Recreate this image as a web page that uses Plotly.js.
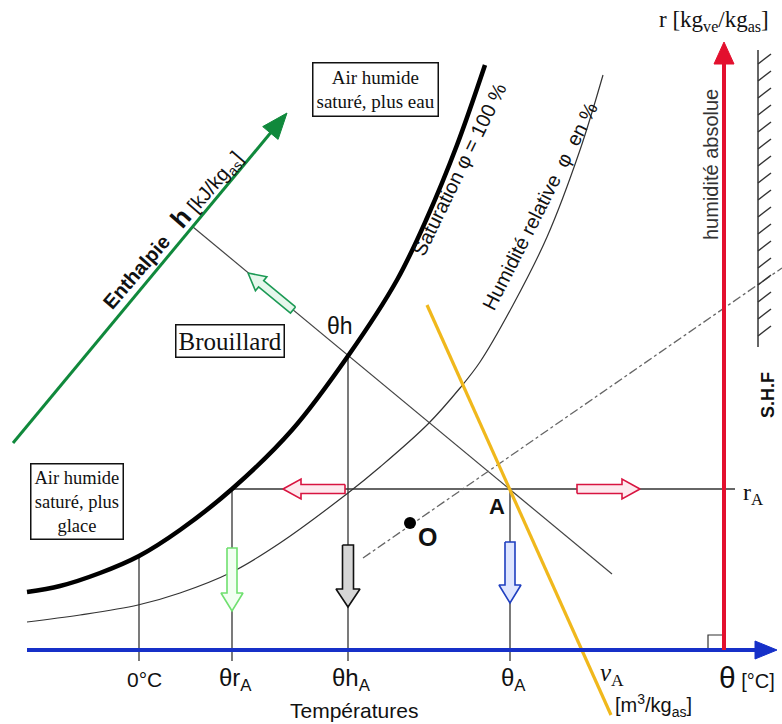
<!DOCTYPE html>
<html><head><meta charset="utf-8">
<script src="https://cdn.plot.ly/plotly-3.0.1.min.js"></script>
<style>html,body{margin:0;padding:0;background:#fff;}#chart{width:782px;height:724px;}</style>
</head><body><div id="chart"></div>
<script>
// ---- schematic data (chart units: x = temperature position, y = screen-down position) ----
const satX = [27, 60, 100, 139, 180, 232, 292, 348, 397, 427, 457, 485];
const satY = [592, 586, 573, 556, 530, 489, 430, 356, 280, 218, 145, 65];
const rhX = [27, 80, 138, 180, 232, 280, 348, 380, 428, 460, 480, 513, 547, 580, 603];
const rhY = [622, 615, 605, 593, 572, 543, 493, 467, 424, 388, 362, 305, 237, 150, 75];
const tempX = [139, 232, 348, 510];
const tempTopY = [556, 489, 356, 489];
const tempLabels = ['0°C', 'θr<sub>A</sub>', 'θh<sub>A</sub>', 'θ<sub>A</sub>'];
const tempLabelSize = [21, 24, 24, 24];
const axisY = 650, axisX0 = 27, axisX1 = 777;
const rAxisX = 724, rAxisTop = 42;
const rA = 489, rLineX0 = 232, rLineX1 = 735;
const pointA = [510, 489];
const pointO = [410, 523];
const enthX = [193, 612], enthY = [227, 574];
const hAxisX = [13, 287], hAxisY = [443, 113];
const volX = [427, 611], volY = [305, 715];
const shfX = [363, 782], shfY = [558, 268];
const hatchX = 758, hatchTop = 50, hatchBottom = 347;

const sans = 'Liberation Sans, Arial, sans-serif';
const serif = 'Liberation Serif, Times New Roman, serif';

const traces = [];
function line(xs, ys, color, width, extra) {
  traces.push(Object.assign({type:'scatter', mode:'lines', x:xs, y:ys,
    line:{color:color, width:width}, hoverinfo:'skip'}, extra || {}));
}
function poly(pts, lineColor, fillColor, w) {
  const xs = pts.map(p => p[0]); const ys = pts.map(p => p[1]);
  xs.push(pts[0][0]); ys.push(pts[0][1]);
  traces.push({type:'scatter', mode:'lines', x:xs, y:ys, fill:'toself',
    fillcolor:fillColor, line:{color:lineColor, width:w}, hoverinfo:'skip'});
}
function arrowHead(from, to, len, half, color) {
  const dx = to[0]-from[0], dy = to[1]-from[1], L = Math.hypot(dx, dy);
  const ux = dx/L, uy = dy/L, nx = -uy, ny = ux;
  const bx = to[0]-ux*len, by = to[1]-uy*len;
  poly([[to[0],to[1]], [bx+nx*half, by+ny*half], [bx-nx*half, by-ny*half]], color, color, 1);
}
function blockArrow(from, to, w, hw, hl, color, fill) {
  const dx = to[0]-from[0], dy = to[1]-from[1], L = Math.hypot(dx, dy);
  const ux = dx/L, uy = dy/L, nx = -uy, ny = ux;
  const bx = to[0]-ux*hl, by = to[1]-uy*hl;
  poly([[from[0]+nx*w, from[1]+ny*w], [bx+nx*w, by+ny*w], [bx+nx*hw, by+ny*hw], [to[0],to[1]],
        [bx-nx*hw, by-ny*hw], [bx-nx*w, by-ny*w], [from[0]-nx*w, from[1]-ny*w]], color, fill, 1.6);
}

// guide lines (verticals + ticks, rA horizontal)
const gx = [], gy = [];
tempX.forEach((x, i) => { gx.push(x, x, null); gy.push(tempTopY[i], axisY + 11, null); });
gx.push(rLineX0, rLineX1, null); gy.push(rA, rA, null);
line(gx, gy, '#333', 1.3);
// enthalpy line
line(enthX, enthY, '#444', 1.2);
// relative humidity curve
line(rhX, rhY, '#333', 1.2, {line:{color:'#333', width:1.2, shape:'spline', smoothing:1}});
// saturation curve
line(satX, satY, '#000', 4.5, {line:{color:'#000', width:4.5, shape:'spline', smoothing:1}});
// SHF dash-dot line
line(shfX, shfY, '#666', 1.3, {line:{color:'#666', width:1.3, dash:'dashdot'}});
// specific volume line
line(volX, volY, '#f0b81c', 3.2);
// hatched wall
const hx = [hatchX, hatchX, null], hy = [hatchTop, hatchBottom, null];
for (let y = 64; y <= hatchBottom; y += 17) { hx.push(hatchX, hatchX + 13, null); hy.push(y, y - 10, null); }
line(hx, hy, '#333', 1.5);
// right-angle marker
line([708, 708, rAxisX], [axisY, 635, 635], '#333', 1.2);
// temperature axis (blue)
line([axisX0, axisX1 - 18], [axisY, axisY], '#1630c8', 4);
arrowHead([axisX0, axisY], [axisX1, axisY], 22, 9, '#1630c8');
// r axis (red)
line([rAxisX, rAxisX], [axisY, rAxisTop + 18], '#e3102e', 4);
arrowHead([rAxisX, axisY], [rAxisX, rAxisTop], 22, 10, '#e3102e');
// enthalpy axis (green)
line([hAxisX[0], hAxisX[1] - 12], [hAxisY[0], hAxisY[1] + 14.5], '#10893c', 3);
arrowHead([hAxisX[0], hAxisY[0]], [hAxisX[1], hAxisY[1]], 26, 10, '#10893c');
// hollow block arrows
blockArrow([293, 310], [248, 273], 4, 9, 17, '#1c9a55', '#e6f7ec');
blockArrow([345, rA], [283, rA], 4.5, 10, 18, '#d81440', '#fde9ee');
blockArrow([577, rA], [640, rA], 4.5, 10, 18, '#d81440', '#fde9ee');
blockArrow([232, 548], [232, 611], 5, 11, 18, '#6fe06f', '#f2fff2');
blockArrow([348, 545], [348, 607], 5.5, 12, 18, '#111', '#d6d6d6');
blockArrow([510, 542], [510, 603], 5, 11, 18, '#1f3fc0', '#dfe6ff');
// point O
traces.push({type:'scatter', mode:'markers', x:[pointO[0]], y:[pointO[1]],
  marker:{color:'#000', size:12}, hoverinfo:'skip'});

// ---- text ----
function ann(x, y, text, size, family, extra) {
  return Object.assign({x:x, y:y, xref:'x', yref:'y', text:text, showarrow:false,
    font:{size:size, family:family, color:'#111'}, xanchor:'center', yanchor:'middle'}, extra || {});
}
const annotations = [
  ann(714, 21, 'r [kg<sub>ve</sub>/kg<sub>as</sub>]', 23, serif),
  ann(711, 165, 'humidité absolue', 20, sans, {textangle:-90, font:{size:20, family:sans, color:'#333'}}),
  ann(768, 395, '<b>S.H.F</b>', 18, sans, {textangle:-90}),
  ann(753, 494, 'r<sub>A</sub>', 24, serif),
  ann(459, 170, 'Saturation φ = 100 %', 20, sans, {textangle:-64}),
  ann(540, 206, 'Humidité relative  φ  en %', 20, sans, {textangle:-63}),
  ann(171, 229, '<b>Enthalpie</b>   <b><span style="font-size:26px">h</span></b> [kJ/kg<sub>as</sub>]', 20, sans, {textangle:-49}),
  ann(230, 341, 'Brouillard', 25, serif, {bordercolor:'#111', borderwidth:1.5, borderpad:2, bgcolor:'#fff'}),
  ann(375, 89, 'Air humide<br>saturé, plus eau', 19, serif, {bordercolor:'#111', borderwidth:1.5, borderpad:3, bgcolor:'#fff'}),
  ann(77, 501, 'Air humide<br>saturé, plus<br>glace', 18.5, serif, {bordercolor:'#111', borderwidth:1.5, borderpad:3, bgcolor:'#fff'}),
  ann(340, 326, 'θh', 23, sans),
  ann(497, 506, '<b>A</b>', 22, sans),
  ann(427, 537, '<b>O</b>', 25, sans),
  ann(612, 674, '<i>ν</i><sub>A</sub>', 25, serif),
  ann(747, 677, '<span style="font-size:30px">θ</span> [°C]', 20, sans),
  ann(354, 710, 'Températures', 21, sans),
  ann(653, 705, '[m<sup>3</sup>/kg<sub>as</sub>]', 20, sans)
];
tempX.forEach((x, i) => annotations.push(ann(x + (i === 0 ? 5 : 3), 679, tempLabels[i], tempLabelSize[i], sans)));

const layout = {
  width:782, height:724, margin:{l:0, r:0, t:0, b:0},
  paper_bgcolor:'#fff', plot_bgcolor:'#fff', showlegend:false,
  xaxis:{range:[0, 782], visible:false, fixedrange:true},
  yaxis:{range:[724, 0], visible:false, fixedrange:true},
  annotations:annotations
};
Plotly.newPlot('chart', traces, layout, {displayModeBar:false});
</script></body></html>
